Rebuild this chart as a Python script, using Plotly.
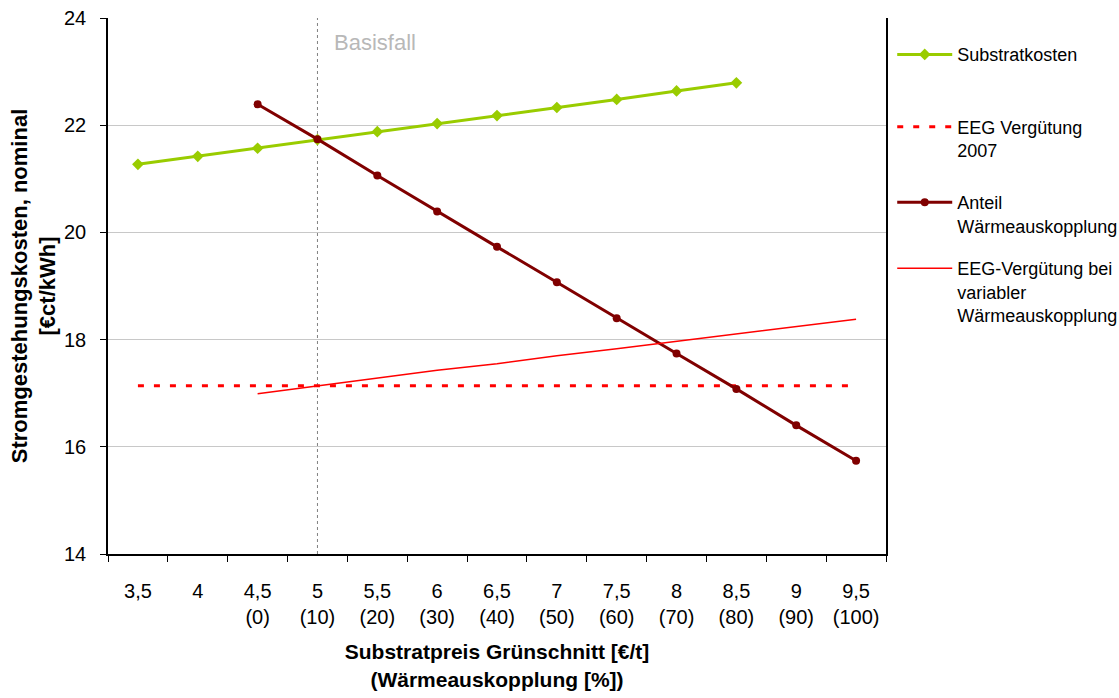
import plotly.graph_objects as go

# Substrate price for green cuttings [EUR/t] and matching heat-utilisation share [%]
price_labels = ["3,5", "4", "4,5", "5", "5,5", "6", "6,5", "7", "7,5", "8", "8,5", "9", "9,5"]
heat_share = [None, None, 0, 10, 20, 30, 40, 50, 60, 70, 80, 90, 100]
base_case_price = "5"

# Electricity generation costs [ct/kWh]
substrate_costs = [21.27, 21.42, 21.57, 21.73, 21.88, 22.03, 22.18, 22.33, 22.48, 22.64, 22.79]
heat_share_costs = [22.39, 21.74, 21.06, 20.39, 19.73, 19.07, 18.40, 17.74, 17.08, 16.40, 15.74]
eeg_2007 = [17.14] * 13
eeg_variable = [16.99, 17.14, 17.28, 17.43, 17.55, 17.70, 17.83, 17.97, 18.10, 18.25, 18.38]

categories = [
    p if h is None else f"{p}<br>({h})" for p, h in zip(price_labels, heat_share)
]
first_heat = heat_share.index(0)
base_idx = price_labels.index(base_case_price)

FONT = "Arial, Liberation Sans, sans-serif"

fig = go.Figure()

fig.add_trace(go.Scatter(
    x=categories[:len(substrate_costs)], y=substrate_costs,
    name="Substratkosten", mode="lines+markers",
    line=dict(color="#99cc00", width=3),
    marker=dict(symbol="diamond", size=9, color="#99cc00"),
    legend="legend",
))
fig.add_trace(go.Scatter(
    x=categories, y=eeg_2007,
    name="EEG Vergütung<br>2007", mode="lines",
    line=dict(color="#ff0000", width=3, dash="6px,10px"),
    legend="legend2",
))
fig.add_trace(go.Scatter(
    x=categories[first_heat:], y=heat_share_costs,
    name="Anteil<br>Wärmeauskopplung", mode="lines+markers",
    line=dict(color="#800000", width=3),
    marker=dict(symbol="circle", size=8, color="#800000"),
    legend="legend3",
))
fig.add_trace(go.Scatter(
    x=categories[first_heat:], y=eeg_variable,
    name="EEG-Vergütung bei<br>variabler<br>Wärmeauskopplung", mode="lines",
    line=dict(color="#ff0000", width=1.5),
    legend="legend4",
))

# Base case marker line
fig.add_shape(
    type="line", xref="x", yref="paper",
    x0=base_idx, x1=base_idx, y0=0, y1=1,
    line=dict(color="#808080", width=1, dash="dot"),
    layer="below",
)
fig.add_annotation(
    x=base_idx, xref="x", y=0.955, yref="paper",
    text="Basisfall", showarrow=False, xanchor="left", yanchor="middle", xshift=15,
    font=dict(family=FONT, size=22, color="#b8b8b8"),
)


def legend_box(y_top):
    return dict(
        x=1.008, xanchor="left", y=y_top, yanchor="top",
        font=dict(family=FONT, size=18, color="black"),
        valign="top", itemwidth=55, bgcolor="rgba(0,0,0,0)",
    )


fig.update_layout(
    width=1119, height=698,
    margin=dict(l=108, r=233, t=18, b=144, autoexpand=False),
    paper_bgcolor="white", plot_bgcolor="white",
    font=dict(family=FONT, size=20, color="black"),
    showlegend=True,
    legend=legend_box(0.966),
    legend2=legend_box(0.831),
    legend3=legend_box(0.690),
    legend4=legend_box(0.567),
    xaxis=dict(
        type="category", range=[-0.5, len(categories) - 0.5],
        tickson="boundaries", ticks="outside", ticklen=6, tickcolor="black",
        showline=True, linecolor="black", linewidth=1.5,
        showgrid=False, ticklabelstandoff=18,
        tickfont=dict(family=FONT, size=20),
        title=dict(
            text="<b>Substratpreis Grünschnitt [€/t]<br>(Wärmeauskopplung [%])</b>",
            font=dict(family=FONT, size=21), standoff=18,
        ),
    ),
    yaxis=dict(
        range=[14, 24], dtick=2, ticks="outside", ticklen=6, tickcolor="black",
        showline=True, linecolor="black", linewidth=1.5, mirror=True,
        showgrid=True, gridcolor="#c8c8c8", gridwidth=1,
        zeroline=False, ticklabelstandoff=10,
        tickfont=dict(family=FONT, size=20),
        title=dict(
            text="<b>Stromgestehungskosten, nominal<br>[€ct/kWh]</b>",
            font=dict(family=FONT, size=22), standoff=2,
        ),
    ),
)

fig.write_html("out.html")
